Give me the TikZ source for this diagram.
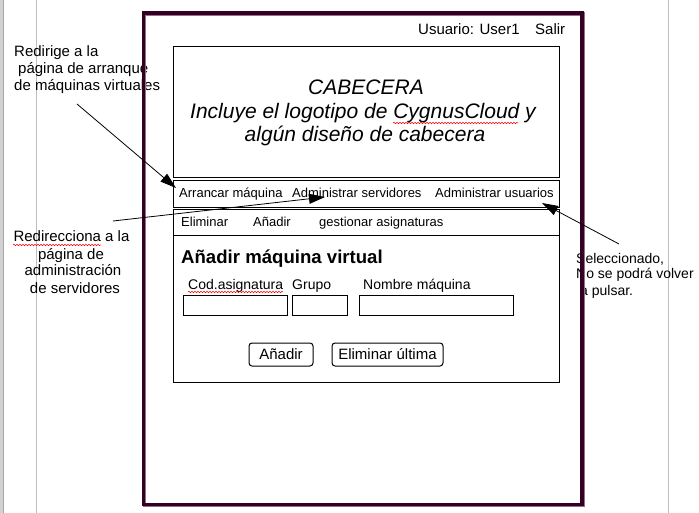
\documentclass[tikz,border=0pt]{standalone}
\usepackage{fontspec}
\setmainfont{Liberation Sans}
\usetikzlibrary{arrows.meta,decorations.pathmorphing}
\definecolor{framecol}{RGB}{51,0,34}
\definecolor{shadowcol}{RGB}{150,110,140}
\definecolor{guidecol}{RGB}{190,190,190}
\tikzset{
  box/.style={draw=black, line width=1pt, anchor=north west, inner sep=0pt, minimum width=#1},
  txt/.style={anchor=base west, inner sep=0pt, font=\fontsize{13}{15}\selectfont},
  ann/.style={anchor=base west, inner sep=0pt, font=\fontsize{15}{17}\selectfont},
  annc/.style={anchor=base, inner sep=0pt, font=\fontsize{15}{17}\selectfont},
  annr/.style={anchor=base west, inner sep=0pt, font=\fontsize{14}{16}\selectfont},
  lbl/.style={anchor=base west, inner sep=0pt, font=\fontsize{14}{16}\selectfont},
  hdr/.style={anchor=base, inner sep=0pt, font=\fontsize{21}{23}\selectfont\itshape},
  btn/.style={draw=black, line width=1pt, rounded corners=3pt, inner sep=0pt, font=\fontsize{15}{17}\selectfont},
  arr/.style={draw=black, line width=0.8pt, -{Triangle[length=16pt,width=10pt]}},
  spell/.style={draw=red, line width=0.5pt, decorate, decoration={snake, amplitude=0.8pt, segment length=3pt}}
}
\begin{document}
\begin{tikzpicture}[x=1pt,y=-1pt]
\useasboundingbox (0,0) rectangle (699,513);
\fill[white] (0,0) rectangle (699,513);
% page guides
\fill[gray!35] (0,0) rectangle (3,513);
\draw[gray!70, line width=0.8pt] (3,0) -- (3,513);
\draw[guidecol, line width=1pt] (36.5,0) -- (36.5,513);
\draw[guidecol, line width=1pt] (668,0) -- (668,513);

% annotations (under the frame)
\node[ann] (r1) at (14,57) {Redirige a la};
\node[ann] (r2) at (18,74) {página de arranque};
\node[ann] (r3) at (14,91) {de máquinas virtuales};
\node[annc] (s1) at (71.5,242) {Redirecciona a la};
\node[annc] (s2) at (71,259) {página de};
\node[annc] (s3) at (73,276) {administración};
\node[annc] (s4) at (75,293) {de servidores};
\node[annr] (u1) at (576,263) {Seleccionado,};
\node[annr] (u2) at (576,279) {No se podrá volver};
\node[annr] (u3) at (580,295) {a pulsar.};
\draw[spell] (13,245) -- (101,245);

% outer frame
\draw[shadowcol, line width=3.6pt] (144.5,13.8) rectangle (583,505.5);
\draw[framecol, line width=3.6pt] (143.5,12.8) rectangle (582,504.5);

% top bar
\node[lbl, font=\fontsize{15}{17}\selectfont] (user) at (418,35) {Usuario: User1};
\node[lbl, font=\fontsize{15}{17}\selectfont] (salir) at (535,35) {Salir};

% header box
\node[box=386pt, minimum height=131pt] (header) at (173,46) {};
\node[hdr] (h1) at (366,95) {CABECERA};
\node[hdr] (h2) at (363,119) {Incluye el logotipo de CygnusCloud y};
\node[hdr] (h3) at (365,142) {algún diseño de cabecera};
\draw[spell] (393,123) -- (518,123);

% main navigation
\node[box=386pt, minimum height=27pt] (nav) at (173,180) {};
\node[txt] (n1) at (179,198) {Arrancar máquina};
\node[txt] (n2) at (292,198) {Administrar servidores};
\node[txt] (n3) at (435,198) {Administrar usuarios};

% sub navigation + content
\node[box=386pt, minimum height=173pt] (content) at (173,209) {};
\draw[black, line width=1pt] (173,235.5) -- (559,235.5);
\node[txt] (m1) at (181,227) {Eliminar};
\node[txt] (m2) at (253,227) {Añadir};
\node[txt] (m3) at (319,227) {gestionar asignaturas};

\node[anchor=base west, inner sep=0pt, font=\fontsize{18.6}{21}\selectfont\bfseries] (title) at (181,263) {Añadir máquina virtual};

\node[lbl] (l1) at (188,289) {Cod.asignatura};
\node[lbl] (l2) at (292,289) {Grupo};
\node[lbl] (l3) at (363,289) {Nombre máquina};
\draw[spell] (188,292) -- (283,292);

\node[box=104pt, minimum height=20pt] (i1) at (183,295) {};
\node[box=55pt, minimum height=20pt] (i2) at (292,295) {};
\node[box=154pt, minimum height=20pt] (i3) at (359,295) {};

\node[btn, minimum width=64pt, minimum height=23pt] (b1) at (281,354.5) {Añadir};
\node[btn, minimum width=111pt, minimum height=23pt] (b2) at (387.5,354.5) {Eliminar última};

% arrows
\coordinate (a1s) at (77,104);
\coordinate (a1e) at (176,188);
\coordinate (a2s) at (113,221);
\coordinate (a2e) at (325,197);
\coordinate (a3s) at (619,244);
\coordinate (a3e) at (542,203);
\draw[arr] (a1s) -- (a1e);
\draw[arr] (a2s) -- (a2e);
\draw[arr] (a3s) -- (a3e);
\end{tikzpicture}
\end{document}
